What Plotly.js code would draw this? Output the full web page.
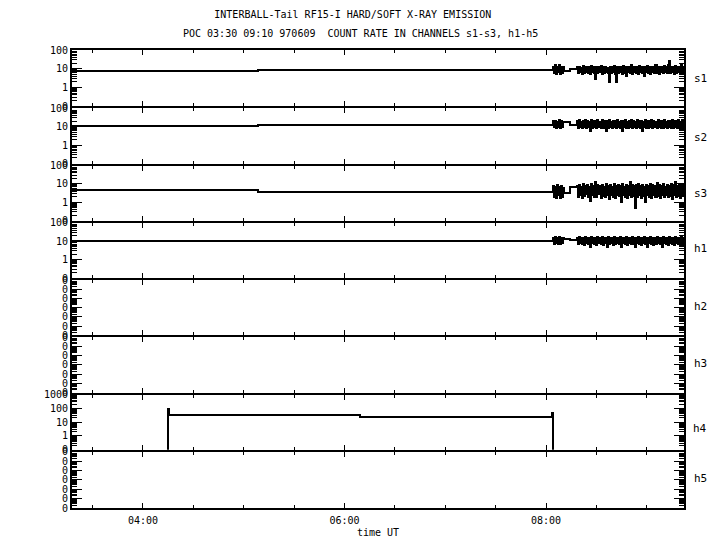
<!DOCTYPE html>
<html><head><meta charset="utf-8">
<script src="https://cdn.plot.ly/plotly-3.0.1.min.js"></script>
<style>html,body{margin:0;padding:0;background:#fff}#chart{width:720px;height:550px}
#chart svg path{shape-rendering:crispEdges}</style>
</head><body><div id="chart"></div>
<script>
// ---------------- data ----------------
const day = '1997-06-09';
const channels = ['s1','s2','s3','h1','h2','h3','h4','h5'];
// segment boundary times (UT)
const tStart = '03:17:45', tChange = '05:08:30', tBurst = '08:04:00', tBurstEnd = '08:10:30',
      tStepB = '08:14:30', tNoise = '08:18:30', tEnd = '09:22:10';

// [before 05:08, after 05:08]
const s1Level = [7.9, 9.0];
const s2Level = [10.4, 12.5];
const s3Level = [4.6, 3.8];
const h1Level = [10.7, 9.8];
// two flat steps between the burst and the noisy stretch
const s1Step = [7.5, 9.5];
const s2Step = [19, 12.8];
const s3Step = [3.1, 6.4];
const h1Step = [13.6, 12];
// short burst 08:04 - 08:10
const s1Burst = [13,6,15,5,12,7,16,5,13,6,12];
const s2Burst = [20,10,21,9,19,10,22,9,20,10,19];
const s3Burst = [8,2,7,1.8,8.4,2.5,7,1.8,8,2,6];
const h1Burst = [15,7,16,8,14,7,16,7,15,8,14];
// noisy stretch 08:18 - 09:22
const s1Noise = [12,6,13,7,11,5,14,6,12,7, 13,6,12,5,14,7,12,6,3,13, 6,12,7,14,5,12,6,13,7,11,
  6,2,13,6,12,7,14,5,2,12, 6,13,7,12,5,14,6,12,4,13, 7,12,6,15,5,12,7,13,6,12,
  5,14,7,12,6,13,4,12,7,14, 6,12,5,13,7,12,6,15,6,12, 5,13,7,12,6,14,7,12,6,16,
  26,6,13,7,12,5,14,6,13,7, 12,6,15,6,13,8];
const s2Noise = [20,9,22,10,19,8,21,10,23,9, 20,10,18,6,22,9,20,10,21,8, 22,10,19,9,24,8,20,10,6,21,
  9,22,10,19,8,21,10,20,9,23, 10,18,9,21,6,20,10,22,9,19, 8,21,10,23,9,20,10,19,8,22,
  10,20,9,21,6,19,10,22,9,20, 8,21,10,24,9,20,10,19,9,22, 10,20,8,21,9,23,10,19,9,21,
  10,20,8,22,9,21,10,20,9,23, 10,19,9,22,10,18];
const s3Noise = [8,2,9,2.5,7,1.8,10,2.2,8,3, 9,2,7,1.2,10,2.5,8,2,12,2, 9,3,8,1.7,9,2.2,7,1.9,10,2.5,
  8,1.5,9,2.4,7,2,10,1.8,8,2.6, 9,2.1,8,1.1,10,2.4,7,2,9,1.7, 8,2.5,13,2,9,2.2,8,0.5,9,2,
  10,2.5,8,1.8,9,2.3,7,1,9,2.4, 8,2,10,1.7,9,2.5,8,2,11,2.2, 9,1.8,8,2.4,10,2,7,2.5,9,1.9,
  8,2.2,10,1.6,9,2.5,12,2,8,2.3, 9,1.8,10,2.4,8,3];
const h1Noise = [15,7,16,8,14,7,15,6,16,8, 14,7,15,5,16,8,14,7,15,6, 16,8,14,7,17,6,15,8,14,5,
  16,7,15,8,14,6,16,7,15,8, 14,7,16,5,15,8,14,7,16,6, 15,8,14,7,16,7,15,5,14,8,
  16,7,15,6,14,8,16,7,15,5, 14,8,16,7,15,6,14,7,16,8, 15,7,14,5,16,8,15,7,14,6,
  16,8,15,7,14,6,17,8,15,7, 14,6,16,8,15,7];
// h4 channel
const h4Times  = ['03:17:45','04:15:00','04:15:20','04:15:40','06:09:00','08:03:40','08:04:00','09:22:10'];
const h4Values = [0, 83, 31, 31, 22, 43, 0, 0];
// h2, h3, h5 stayed at zero
const h2Times = ['03:17:45','09:22:10'], h2Values = [0, 0];
const h3Times = ['03:17:45','09:22:10'], h3Values = [0, 0];
const h5Times = ['03:17:45','09:22:10'], h5Values = [0, 0];

// axis tick labels
const stdTickVals = [0.1, 1, 10, 100], stdTickText = ['0','1','10','100'];
const h4TickVals = [0.1, 1, 10, 100, 1000], h4TickText = ['0','1','10','100','1000'];
const zeroTickVals = [1e-6,1e-5,1e-4,1e-3,1e-2,1e-1,1], zeroTickText = ['0','0','0','0','0','0','0'];

const titleLine1 = 'INTERBALL-Tail RF15-I HARD/SOFT X-RAY EMISSION';
const titleLine2 = 'POC 03:30 09:10 970609  COUNT RATE IN CHANNELS s1-s3, h1-h5';
const xTitle = 'time UT';

// ---------------- build ----------------
function ts(hms){ return day + ' ' + hms; }
function ms(hms){ return Date.parse(day + 'T' + hms + 'Z'); }
function str(m){ return new Date(m).toISOString().replace('T',' ').replace('Z',''); }
function spread(a, b, n){ // sample times for n evenly spaced samples in [a,b]
  const A = ms(a), B = ms(b), out = [];
  for (let i = 0; i < n; i++) out.push(str(A + (B - A) * i / (n - 1)));
  return out;
}
function buildChannel(level, step, burst, noise){
  const x = [ts(tStart), ts(tChange)], y = [level[0], level[1]];
  const bt = spread(tBurst, tBurstEnd, burst.length + 1);
  burst.forEach((v,i)=>{ x.push(bt[i]); y.push(v); });
  x.push(ts(tBurstEnd)); y.push(step[0]);
  x.push(ts(tStepB)); y.push(step[1]);
  const nt = spread(tNoise, tEnd, noise.length);
  noise.forEach((v,i)=>{ x.push(nt[i]); y.push(v); });
  return {x, y};
}
const ranges = [[-1,2],[-1,2],[-1,2],[-1,2],[-6,0],[-6,0],[-1,3],[-6,0]];
// a zero count is drawn on the "0" baseline at the bottom of each log panel
const floors = ranges.map(r => Math.pow(10, r[0]) * 0.7);
const series = [
  buildChannel(s1Level, s1Step, s1Burst, s1Noise),
  buildChannel(s2Level, s2Step, s2Burst, s2Noise),
  buildChannel(s3Level, s3Step, s3Burst, s3Noise),
  buildChannel(h1Level, h1Step, h1Burst, h1Noise),
  {x: h2Times.map(ts), y: h2Values},
  {x: h3Times.map(ts), y: h3Values},
  {x: h4Times.map(ts), y: h4Values},
  {x: h5Times.map(ts), y: h5Values}
];
const traces = series.map((s,k)=>({
  type:'scatter', mode:'lines', x:s.x,
  y:s.y.map(v => v > 0 ? v : floors[k]),
  line:{color:'#000', width:2, shape:'hv'},
  xaxis: k ? 'x'+(k+1) : 'x', yaxis: k ? 'y'+(k+1) : 'y',
  showlegend:false, hoverinfo:'skip'
}));

const font = {family:'DejaVu Sans Mono, Liberation Mono, monospace', size:10, color:'#000'};
function minorVals(lo, hi){
  const out = [];
  for (let d = lo; d < hi; d++) for (let m = 2; m <= 9; m++) out.push(m * Math.pow(10, d));
  return out;
}
const H = 458; // plot-area height in px
const LW = 2;  // axis line width
const layout = {
  width:720, height:550, paper_bgcolor:'#fff', plot_bgcolor:'#fff',
  margin:{l:72, r:36, t:50, b:42}, font:font, showlegend:false,
  title:{text:titleLine1, font:{...font, size:10}, x:0.49, xref:'container', xanchor:'center',
         y:1-14/550, yref:'container', yanchor:'middle'},
  annotations:[
    {text:titleLine2, xref:'paper', yref:'paper', x:(360-72)/612, y:(508-34)/H,
     xanchor:'center', yanchor:'middle', showarrow:false, font:{...font, size:10}}
  ]
};
const labelY = [78,137,193,248,307,364,428,478];
const tickTexts = [stdTickText,stdTickText,stdTickText,stdTickText,zeroTickText,zeroTickText,h4TickText,zeroTickText];
const tickValsAll = [stdTickVals,stdTickVals,stdTickVals,stdTickVals,zeroTickVals,zeroTickVals,h4TickVals,zeroTickVals];
channels.forEach((name,k)=>{
  const xa = k ? 'xaxis'+(k+1) : 'xaxis', ya = k ? 'yaxis'+(k+1) : 'yaxis';
  layout[xa] = {
    type:'date', range:[ts('03:17:45'), ts('09:22:10')],
    anchor: k ? 'y'+(k+1) : 'y', matches: k ? 'x' : undefined,
    showticklabels: k === 7, tickformat:'%H:%M', tickmode:'linear',
    tick0: ts('04:00:00'), dtick: 7200000, ticklabelstandoff: 2,
    ticks:'inside', ticklen:5, tickwidth:1, tickcolor:'#000',
    minor:{dtick:1800000, tick0: ts('04:00:00'), ticks:'inside', ticklen:3, tickwidth:1, tickcolor:'#000', showgrid:false},
    showline:true, linecolor:'#000', linewidth:LW, mirror:'allticks',
    showgrid:false, zeroline:false, tickfont:font, fixedrange:true
  };
  if (k === 7) layout[xa].title = {text:xTitle, font:font, standoff:4};
  const r = ranges[k];
  const topPx = 57.25 * k, botPx = 57.25 * (k + 1);
  const half = LW / 2;
  const d0 = (H - botPx + (k < 7 ? half : 0)) / H, d1 = (H - topPx - (k > 0 ? half : 0)) / H;
  layout[ya] = {
    type:'log', range:r, domain:[d0, d1], anchor: k ? 'x'+(k+1) : 'x',
    tickmode:'array', tickvals:tickValsAll[k], ticktext:tickTexts[k],
    ticks:'inside', ticklen:10, tickwidth:1, tickcolor:'#000',
    minor:{tickmode:'array', tickvals:minorVals(r[0], r[1]), ticks:'inside', ticklen:5, tickwidth:1, tickcolor:'#000', showgrid:false},
    showline:true, linecolor:'#000', linewidth:LW, mirror:'allticks',
    showgrid:false, zeroline:false, tickfont:font, fixedrange:true
  };
  layout.annotations.push({text:name, xref:'paper', yref:'paper', x:(700-72)/612, y:(508-labelY[k])/H,
    xanchor:'center', yanchor:'middle', showarrow:false, font:{...font, size:11}});
});
Plotly.newPlot('chart', traces, layout, {displayModeBar:false, staticPlot:true});
</script>
</body></html>
